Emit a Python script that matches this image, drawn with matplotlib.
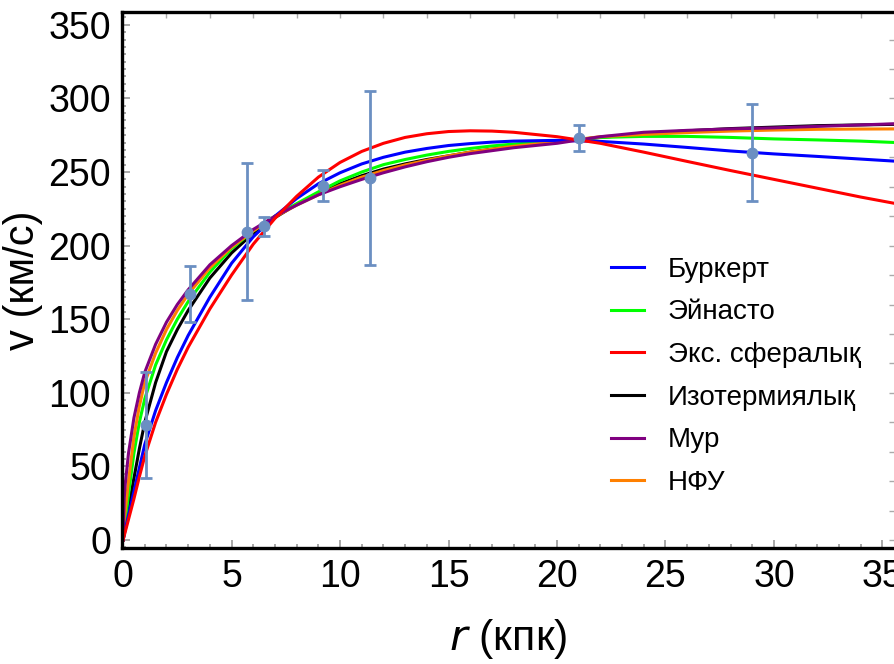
import matplotlib
matplotlib.use("Agg")
import matplotlib.pyplot as plt
from matplotlib.ticker import MultipleLocator

plt.rcParams['font.family'] = ['Liberation Sans', 'DejaVu Sans']

# observed rotation velocities
r_obs = [1.05, 3.1, 5.7, 6.5, 9.2, 11.4, 21.0, 29.0]
v_obs = [78, 167, 209.5, 213, 240.8, 246, 273, 263]
v_err = [36, 19, 46.5, 6.5, 10.5, 59, 9, 33]

# fitted halo models, sampled along r (kpc)
r_fit = [0, 0.05, 0.1, 0.25, 0.5, 0.75, 1, 1.5, 2, 2.5, 3, 4, 5, 6, 7, 8, 9, 10,
         11, 12, 13, 14, 15, 16, 17, 18, 20, 22, 24, 26, 28, 30, 32, 34, 36]

v_burkert = [0, 3.5, 7, 17, 33, 49, 65, 88, 107, 124, 139, 165, 188, 206, 220,
             232, 242, 249.5, 255.5, 260, 263.5, 266, 268, 269.3, 270.3, 271,
             271.5, 270.8, 269, 266.7, 264.3, 262.3, 260.6, 258.8, 257]
v_einasto = [0, 6, 12, 31, 59, 80, 96, 119, 136, 150, 162, 182, 198, 210, 220,
             228.5, 236.5, 244, 250, 255, 258.5, 261.5, 264, 266, 267.7, 269, 271,
             273.5, 274.2, 274.2, 273.5, 272.5, 271.8, 271, 269.8]
v_expsph = [0, 2.8, 5.6, 14, 28, 43, 57, 80, 99, 116, 131, 157, 180, 201, 218.5,
            233.5, 246.5, 256.5, 264, 269.5, 273.5, 276, 277.5, 278, 277.8, 277,
            274, 269.5, 263.5, 257.2, 251, 245, 239, 233, 227.5]
v_iso = [0, 4.2, 8.4, 21, 42, 62, 80, 107, 128, 143, 156, 178, 195, 208.5, 219,
         228, 235.5, 242, 247.5, 252, 255.5, 258.5, 261, 263.5, 265.5, 267.5,
         270.5, 273.5, 276, 278, 279.5, 280.5, 281.5, 282, 282.5]
v_moore = [0, 28, 38, 59, 83, 100, 114, 133, 148, 160, 170, 187, 200, 211, 220,
           227.5, 234.5, 240, 245, 249.5, 253.5, 257, 260, 262.5, 264.5, 266.5,
           269.5, 274, 277, 278.3, 279.3, 280, 281, 282, 283]
v_nfw = [0, 14, 20, 40, 70, 91, 107, 127, 143, 156, 167, 185, 199, 210, 219.5,
         227.5, 234.5, 241, 246.5, 251, 254.8, 258, 261, 263.5, 265.5, 267.5,
         270.5, 274, 275.5, 276.8, 277.8, 278.5, 279, 279.2, 279.3]

models = [
    ("Буркерт", v_burkert, "#0000ff"),
    ("Эйнасто", v_einasto, "#00ff00"),
    ("Экс. сфералық", v_expsph, "#ff0000"),
    ("Изотермиялық", v_iso, "#000000"),
    ("Мур", v_moore, "#800080"),
    ("НФУ", v_nfw, "#ff8000"),
]

fig = plt.figure(figsize=(8.95, 6.64), dpi=100)
ax = fig.add_axes([122 / 895, 116 / 664, 773 / 895, 536 / 664])

# drawing order differs from legend order: red ends up on top
order = [3, 1, 5, 0, 4, 2]
handles = {}
for k, i in enumerate(order):
    name, v, c = models[i]
    handles[i], = ax.plot(r_fit, v, color=c, lw=2.2, label=name,
                          solid_joinstyle='round', zorder=2 + k * 0.1)

ax.errorbar(r_obs, v_obs, yerr=v_err, fmt='o', color='#6b8fc2', ms=7.5,
            elinewidth=2, capsize=4, capthick=2, zorder=5)

ax.set_xlim(-0.05, 35.58)
ax.set_ylim(-5.4, 358.7)

ax.xaxis.set_major_locator(MultipleLocator(5))
ax.xaxis.set_minor_locator(MultipleLocator(1))
ax.yaxis.set_major_locator(MultipleLocator(50))
ax.yaxis.set_minor_locator(MultipleLocator(5))
ax.tick_params(which='both', direction='in', color='#999999', width=1.2,
               top=False, right=False, labelsize=27, pad=8)
ax.tick_params(which='major', length=6)
ax.tick_params(which='minor', length=3)

for side in ['left', 'bottom', 'top']:
    ax.spines[side].set_linewidth(2.4)
ax.spines['right'].set_visible(False)

# unlabeled ticks on the top and right edges
top = ax.secondary_xaxis('top')
top.set_xticks(range(0, 36, 2))
top.tick_params(direction='in', length=4, color='#aaaaaa', width=1, labeltop=False)
top.spines['top'].set_visible(False)
right = ax.secondary_yaxis('right')
right.set_yticks(range(0, 360, 20))
right.tick_params(direction='in', length=4, color='#aaaaaa', width=1, labelright=False)
right.spines['right'].set_visible(False)

ax.set_ylabel("v (км/с)", fontsize=30, labelpad=4)
ax.set_xlabel("$\\it{r}$ (кпк)", fontsize=31, labelpad=16)

ax.legend([handles[i] for i in range(6)], [m[0] for m in models],
          loc='upper left', bbox_to_anchor=(0.6, 0.59), frameon=False,
          fontsize=20, handlelength=1.2, handletextpad=0.85, labelspacing=0.6)

fig.savefig("out.png", dpi=100)
